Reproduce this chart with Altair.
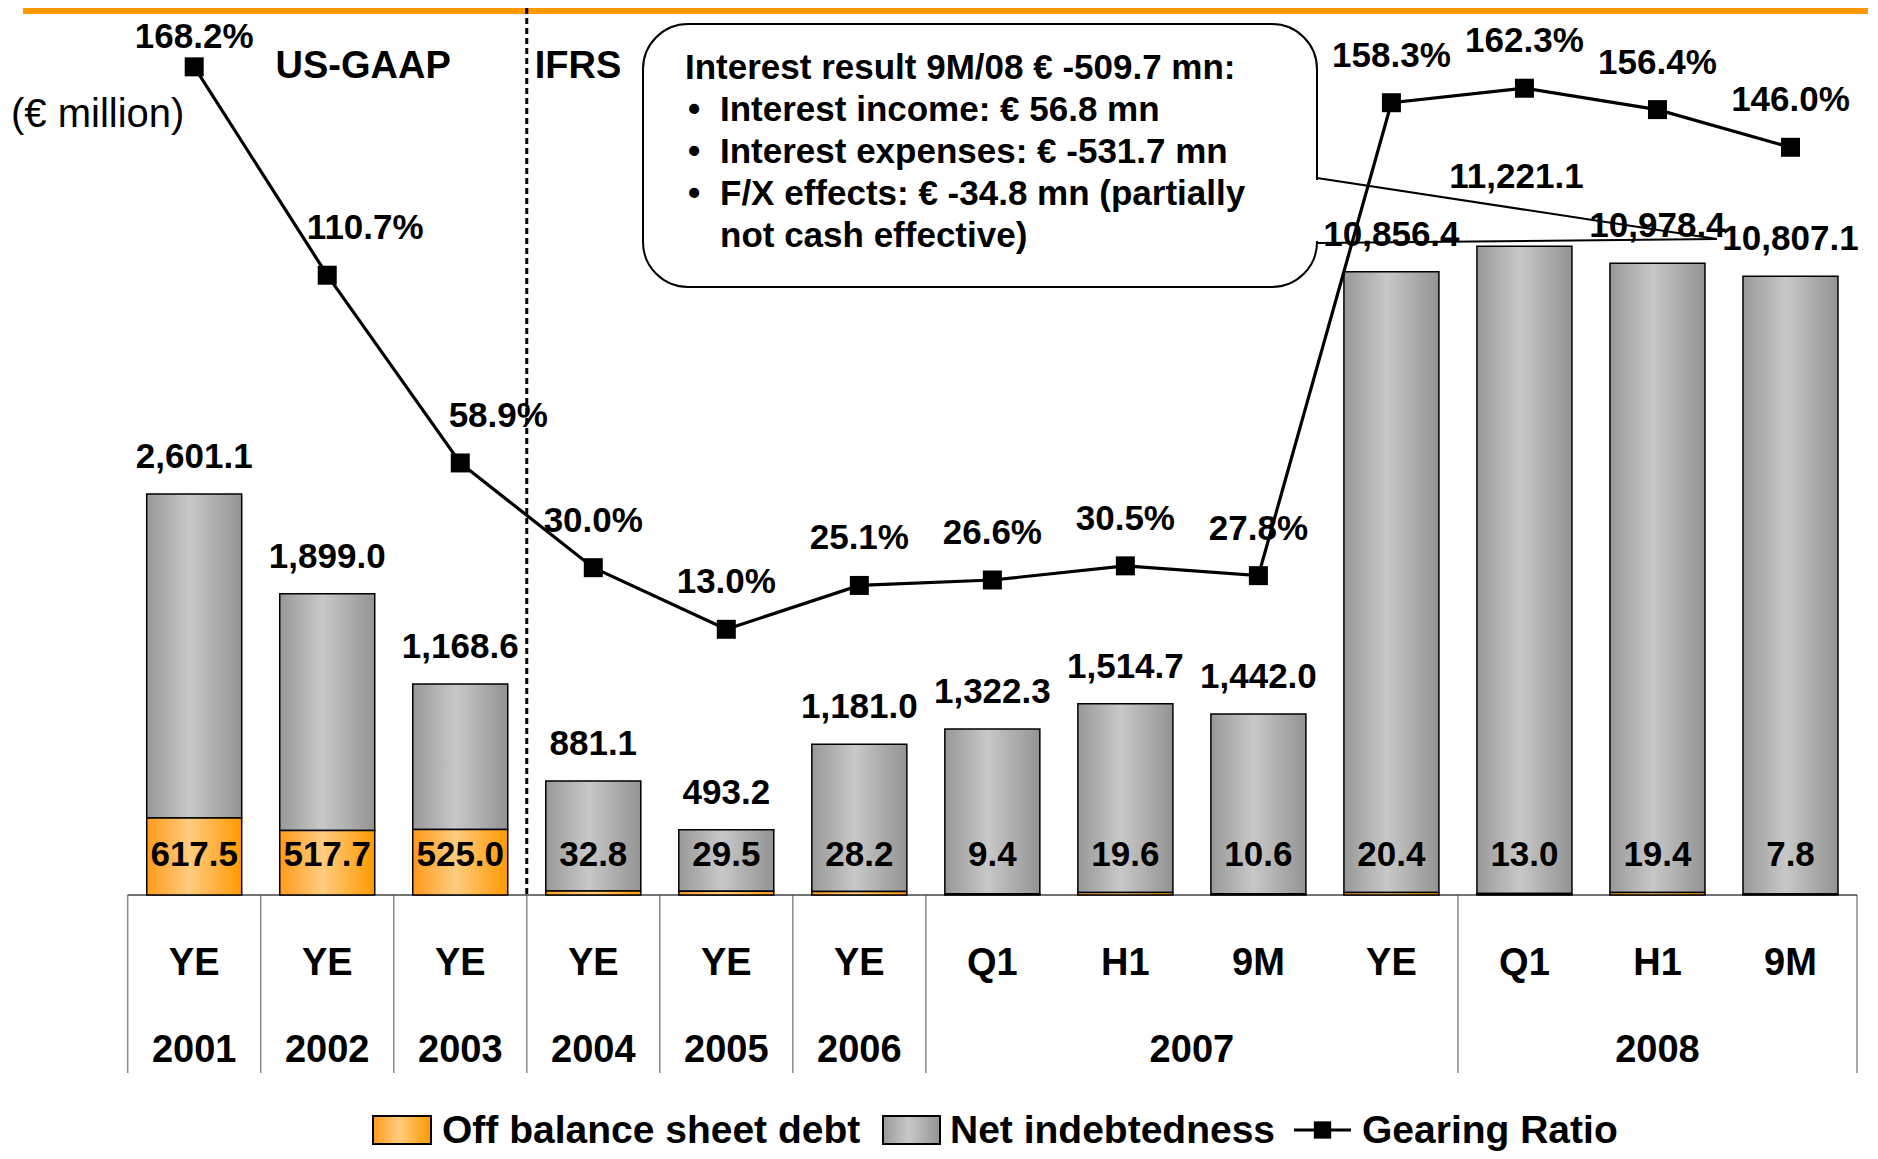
import altair as alt
import pandas as pd

# ---------------- data ----------------
periods = ["YE", "YE", "YE", "YE", "YE", "YE", "Q1", "H1", "9M", "YE", "Q1", "H1", "9M"]
years = ["2001", "2002", "2003", "2004", "2005", "2006",
         "2007", "2007", "2007", "2007", "2008", "2008", "2008"]
standards = ["US-GAAP"] * 3 + ["IFRS"] * 10
net_debt = [2601.1, 1899.0, 1168.6, 881.1, 493.2, 1181.0, 1322.3, 1514.7,
            1442.0, 10856.4, 11221.1, 10978.4, 10807.1]
off_balance = [617.5, 517.7, 525.0, 32.8, 29.5, 28.2, 9.4, 19.6, 10.6,
               20.4, 13.0, 19.4, 7.8]
gearing = [168.2, 110.7, 58.9, 30.0, 13.0, 25.1, 26.6, 30.5, 27.8,
           158.3, 162.3, 156.4, 146.0]

series_names = ["Off balance sheet debt", "Net indebtedness", "Gearing Ratio"]
unit_label = "(€ million)"
callout_header = "Interest result 9M/08 € -509.7 mn:"
callout_bullets = ["Interest income: € 56.8 mn",
                   "Interest expenses: € -531.7 mn",
                   "F/X effects: € -34.8 mn (partially"]
callout_cont = "not cash effective)"

# ---------------- tables ----------------
n = len(periods)
df = pd.DataFrame({"idx": list(range(n)), "period": periods, "year": years,
                   "standard": standards, "net": net_debt,
                   "off": off_balance, "pct": gearing})

bounds = [i - 0.5 for i in range(n) if i == 0 or years[i] != years[i - 1]] + [n - 0.5]
bounds_df = pd.DataFrame({"b": bounds})
sep_df = pd.DataFrame([{"b": i - 0.5, "left": standards[i - 1], "right": standards[i]}
                       for i in range(1, n) if standards[i] != standards[i - 1]])
base_df = pd.DataFrame({"a": [-0.5], "b": [n - 0.5], "zero": [0]})
one = pd.DataFrame({"k": [0]})

F = "Liberation Sans, Arial, Helvetica, sans-serif"

X = alt.Scale(domain=[-0.5, n - 0.5], range=[114.7, 1854.0], nice=False, zero=False)
BAR_Y = alt.Scale(domain=[0, 3300, 10000, 11500], range=[887, 475.8, 326.2, 219.4],
                  nice=False)
LINE_Y = alt.Scale(domain=[0, 100], range=[668.4, 306.0], nice=False, zero=False)
LABEL_CAP = 163.6  # gearing labels are kept inside the plot's top edge

x_enc = alt.X("idx:Q", scale=X, axis=None)

gray_grad = alt.LinearGradient(
    gradient="linear", x1=0, x2=1, y1=0, y2=0,
    stops=[alt.GradientStop(offset=0, color="#989898"),
           alt.GradientStop(offset=0.45, color="#c8c8c8"),
           alt.GradientStop(offset=1, color="#939393")])
orange_grad = alt.LinearGradient(
    gradient="linear", x1=0, x2=1, y1=0, y2=0,
    stops=[alt.GradientStop(offset=0, color="#ff9a1c"),
           alt.GradientStop(offset=0.45, color="#ffcc80"),
           alt.GradientStop(offset=1, color="#ff9900")])

base = alt.Chart(df).transform_calculate(
    total="datum.net + datum.off",
    zero="0",
    net_label="format(datum.net, ',.1f')",
    off_label="format(datum.off, '.1f')",
    pct_label="format(datum.pct, '.1f') + '%'",
    pct_pos=f"min(datum.pct, {LABEL_CAP})",
)

def txt(size=35, weight="bold", align="center", font=F, **kw):
    return dict(font=font, fontSize=size, fontWeight=weight, align=align,
                baseline="alphabetic", color="black", **kw)

layers = []

# orange band on top
layers.append(alt.Chart(one).mark_rect(color="#ff9900").encode(
    x=alt.value(15), x2=alt.value(1860), y=alt.value(0), y2=alt.value(6)))

# category table lines
layers.append(alt.Chart(bounds_df).mark_rule(color="#8a8a8a", strokeWidth=1.5).encode(
    x=alt.X("b:Q", scale=X, axis=None), y=alt.value(887), y2=alt.value(1065)))
layers.append(alt.Chart(base_df).mark_rule(color="#444444", strokeWidth=1.5).encode(
    x=alt.X("a:Q", scale=X, axis=None), x2="b:Q",
    y=alt.Y("zero:Q", scale=BAR_Y, axis=None)))

# US-GAAP / IFRS separator
sep = alt.Chart(sep_df)
layers.append(sep.mark_rule(color="black", strokeWidth=3, strokeDash=[6, 4]).encode(
    x=alt.X("b:Q", scale=X, axis=None), y=alt.value(0), y2=alt.value(887)))
layers.append(sep.mark_text(**txt(38, align="right", dx=-76)).encode(
    x=alt.X("b:Q", scale=X, axis=None), y=alt.value(70), text="left:N"))
layers.append(sep.mark_text(**txt(38, align="left", dx=8)).encode(
    x=alt.X("b:Q", scale=X, axis=None), y=alt.value(70), text="right:N"))

# bars
layers.append(base.mark_bar(width=95, color=gray_grad, stroke="black", strokeWidth=1.5).encode(
    x=x_enc, y=alt.Y("total:Q", scale=BAR_Y, axis=None), y2="off:Q"))
layers.append(base.mark_bar(width=95, color=orange_grad, stroke="black", strokeWidth=1.5).encode(
    x=x_enc, y=alt.Y("off:Q", scale=BAR_Y, axis=None), y2="zero:Q"))

# bar labels (a wide label on a bar taller than both neighbours is lifted to avoid them)
nl = base.transform_window(prev_total="lag(total)", next_total="lead(total)",
                           sort=[alt.SortField("idx")]).transform_calculate(
    lift="length(datum.net_label) >= 8 && datum.prev_total != null && "
         "datum.next_total != null && datum.total > datum.prev_total && "
         "datum.total > datum.next_total ? 1 : 0")
y_tot = alt.Y("total:Q", scale=BAR_Y, axis=None)
layers.append(nl.transform_filter("datum.lift == 0").mark_text(**txt(35, dy=-26)).encode(
    x=x_enc, y=y_tot, text="net_label:N"))
layers.append(nl.transform_filter("datum.lift == 1").mark_text(**txt(35, dy=-58, dx=-8)).encode(
    x=x_enc, y=y_tot, text="net_label:N"))
layers.append(base.mark_text(**txt(35, dy=-29)).encode(
    x=x_enc, y=alt.Y("zero:Q", scale=BAR_Y, axis=None), text="off_label:N"))

# gearing ratio line
y_line = alt.Y("pct:Q", scale=LINE_Y, axis=None)
y_lab = alt.Y("pct_pos:Q", scale=LINE_Y, axis=None)
layers.append(base.mark_line(color="black", strokeWidth=3.2).encode(x=x_enc, y=y_line))
layers.append(base.mark_point(shape="square", filled=True, size=361, color="black",
                              opacity=1).encode(x=x_enc, y=y_line))
lab = base.transform_window(prev="lag(pct)", sort=[alt.SortField("idx")]).transform_calculate(
    drop="datum.prev == null ? 0 : datum.prev - datum.pct")
layers.append(lab.transform_filter("datum.drop <= 40").mark_text(**txt(35, dy=-36)).encode(
    x=x_enc, y=y_lab, text="pct_label:N"))
layers.append(lab.transform_filter("datum.drop > 40").mark_text(**txt(35, dy=-36, dx=38)).encode(
    x=x_enc, y=y_lab, text="pct_label:N"))

# unit label
layers.append(alt.Chart(one).mark_text(**txt(40, weight="normal", align="left")).encode(
    x=alt.value(3), y=alt.value(119), text=alt.value(unit_label)))

# callout box
layers.append(alt.Chart(one).mark_rect(cornerRadius=45, fill="white", stroke="black",
                                       strokeWidth=2).encode(
    x=alt.value(635), x2=alt.value(1309), y=alt.value(16), y2=alt.value(279)))
layers.append(alt.Chart(one).mark_rule(color="white", strokeWidth=5).encode(
    x=alt.value(1309), y=alt.value(172), y2=alt.value(233)))
layers.append(alt.Chart(one).mark_rule(color="black", strokeWidth=2).encode(
    x=alt.value(1309), x2=alt.value(1709), y=alt.value(170), y2=alt.value(231)))
layers.append(alt.Chart(one).mark_rule(color="black", strokeWidth=2).encode(
    x=alt.value(1309), x2=alt.value(1709), y=alt.value(235), y2=alt.value(231)))
layers.append(alt.Chart(one).mark_text(**txt(35, align="left")).encode(
    x=alt.value(677), y=alt.value(71), text=alt.value(callout_header)))
for k, line in enumerate(callout_bullets):
    yy = 113 + 42 * k
    layers.append(alt.Chart(one).mark_text(**txt(35, align="left")).encode(
        x=alt.value(680), y=alt.value(yy), text=alt.value("•")))
    layers.append(alt.Chart(one).mark_text(**txt(35, align="left")).encode(
        x=alt.value(712), y=alt.value(yy), text=alt.value(line)))
layers.append(alt.Chart(one).mark_text(**txt(35, align="left")).encode(
    x=alt.value(712), y=alt.value(239), text=alt.value(callout_cont)))

# category labels
layers.append(base.mark_text(**txt(38)).encode(
    x=x_enc, y=alt.value(967), text="period:N"))
layers.append(alt.Chart(df).transform_aggregate(mid="mean(idx)", groupby=["year"]).mark_text(
    **txt(38)).encode(x=alt.X("mid:Q", scale=X, axis=None), y=alt.value(1054), text="year:N"))

# legend
ly0, ly1, lyc, lyb = 1108, 1136, 1122, 1135
layers.append(alt.Chart(one).mark_rect(color=orange_grad, stroke="black", strokeWidth=2).encode(
    x=alt.value(365), x2=alt.value(423), y=alt.value(ly0), y2=alt.value(ly1)))
layers.append(alt.Chart(one).mark_text(**txt(39, align="left")).encode(
    x=alt.value(434), y=alt.value(lyb), text=alt.value(series_names[0])))
layers.append(alt.Chart(one).mark_rect(color=gray_grad, stroke="black", strokeWidth=2).encode(
    x=alt.value(875), x2=alt.value(932), y=alt.value(ly0), y2=alt.value(ly1)))
layers.append(alt.Chart(one).mark_text(**txt(39, align="left")).encode(
    x=alt.value(942), y=alt.value(lyb), text=alt.value(series_names[1])))
layers.append(alt.Chart(one).mark_rule(color="black", strokeWidth=3).encode(
    x=alt.value(1286), x2=alt.value(1343), y=alt.value(lyc)))
layers.append(alt.Chart(one).mark_point(shape="square", filled=True, size=300, color="black",
                                        opacity=1).encode(x=alt.value(1314.5), y=alt.value(lyc)))
layers.append(alt.Chart(one).mark_text(**txt(39, align="left")).encode(
    x=alt.value(1354), y=alt.value(lyb), text=alt.value(series_names[2])))

chart = alt.layer(*layers).resolve_scale(y="independent").properties(
    width=1860, height=1143, padding=0,
    autosize=alt.AutoSizeParams(type="none"),
).configure_view(stroke=None)

chart.save("out.html", embed_options={"renderer": "svg", "actions": False})
